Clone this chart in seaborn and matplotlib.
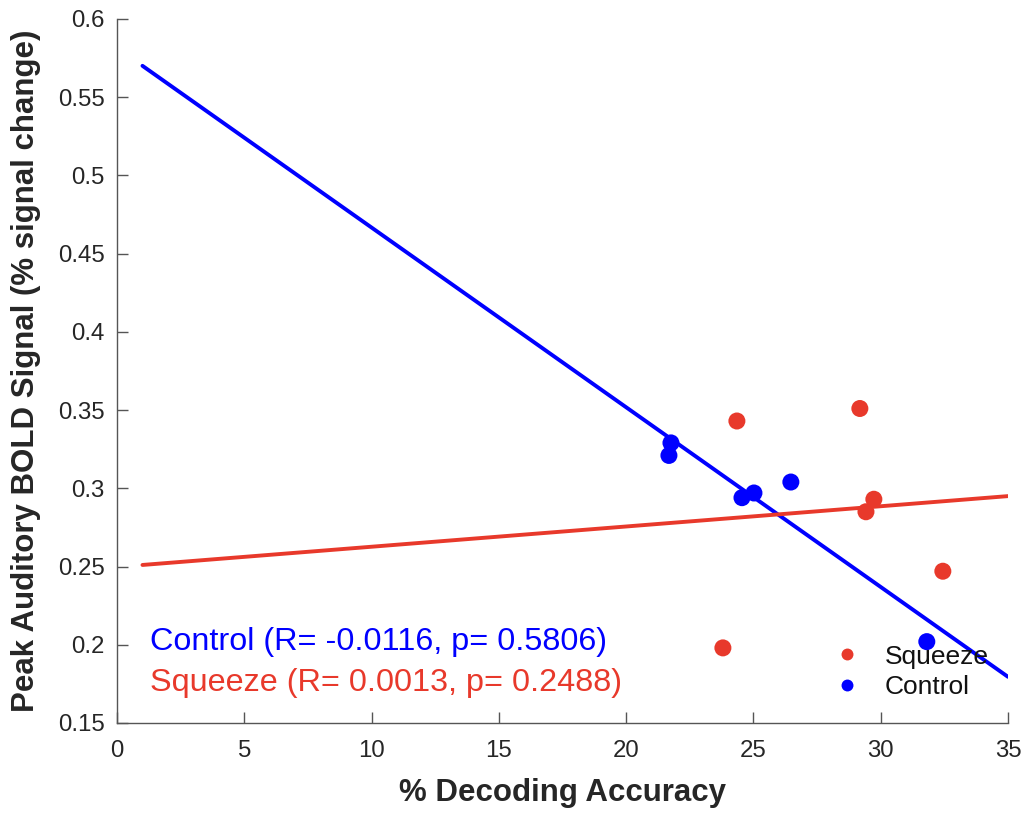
import numpy as np
import pandas as pd
import matplotlib
matplotlib.use("Agg")
import matplotlib.pyplot as plt
import seaborn as sns

# values
control_acc = [21.76, 21.68, 24.55, 25.02, 26.47, 31.81]
control_bold = [0.329, 0.321, 0.294, 0.297, 0.304, 0.202]
squeeze_acc = [24.35, 29.18, 29.73, 29.42, 32.44, 23.80]
squeeze_bold = [0.343, 0.351, 0.293, 0.285, 0.247, 0.198]

fit_x = [1, 35]
control_fit = [0.570, 0.1795]
squeeze_fit = [0.251, 0.295]

blue = "#0000ff"
red = "#e8392b"

pts = pd.DataFrame({
    "acc": control_acc + squeeze_acc,
    "bold": control_bold + squeeze_bold,
    "cond": ["Control"] * len(control_acc) + ["Squeeze"] * len(squeeze_acc),
})
fits = pd.DataFrame({
    "acc": fit_x + fit_x,
    "bold": control_fit + squeeze_fit,
    "cond": ["Control"] * 2 + ["Squeeze"] * 2,
})

sns.set_style("white")
plt.rcParams["font.family"] = ["Liberation Sans", "DejaVu Sans"]

fig = plt.figure(figsize=(10.31, 8.14), dpi=100)
ax = fig.add_axes([0.1135, 0.1118, 0.8642, 0.865])

pal = {"Squeeze": red, "Control": blue}
sns.scatterplot(data=pts, x="acc", y="bold", hue="cond", hue_order=["Squeeze", "Control"],
                palette=pal, s=150, edgecolor="none", ax=ax, zorder=3)
sns.lineplot(data=fits, x="acc", y="bold", hue="cond", palette=pal, linewidth=2.8,
             legend=False, ax=ax, zorder=2)

ax.set_xlim(0, 35)
ax.set_ylim(0.15, 0.6)
ax.set_xticks(np.arange(0, 36, 5))
ax.set_yticks([0.15, 0.2, 0.25, 0.3, 0.35, 0.4, 0.45, 0.5, 0.55, 0.6])
ax.set_yticklabels(["0.15", "0.2", "0.25", "0.3", "0.35", "0.4", "0.45", "0.5", "0.55", "0.6"])
ax.tick_params(axis="both", direction="in", length=8, width=1, colors="#555555",
               labelcolor="#262626", labelsize=17.3, left=True, bottom=True)
ax.tick_params(axis="x", pad=12)
ax.tick_params(axis="y", pad=9)
for s in ["top", "right"]:
    ax.spines[s].set_visible(False)
for s in ["left", "bottom"]:
    ax.spines[s].set_color("#555555")
    ax.spines[s].set_linewidth(1)

ax.set_xlabel("% Decoding Accuracy", fontsize=22.5, fontweight="bold", color="#262626", labelpad=12)
ax.set_ylabel("Peak Auditory BOLD Signal (% signal change)", fontsize=22.5, fontweight="bold",
              color="#262626", labelpad=12)

ax.text(1.3, 0.2017, "Control (R= -0.0116, p= 0.5806)", color=blue, fontsize=23.3, va="center")
ax.text(1.3, 0.1755, "Squeeze (R= 0.0013, p= 0.2488)", color=red, fontsize=23.3, va="center")

leg = ax.legend(title=None, loc="center left", bbox_to_anchor=(0.7775, 0.0724), frameon=False,
                fontsize=19, markerscale=0.7, handlelength=1.0, handletextpad=0.94,
                labelspacing=0.25)
for t in leg.get_texts():
    t.set_color("#111111")

fig.savefig("out.png", dpi=100)
